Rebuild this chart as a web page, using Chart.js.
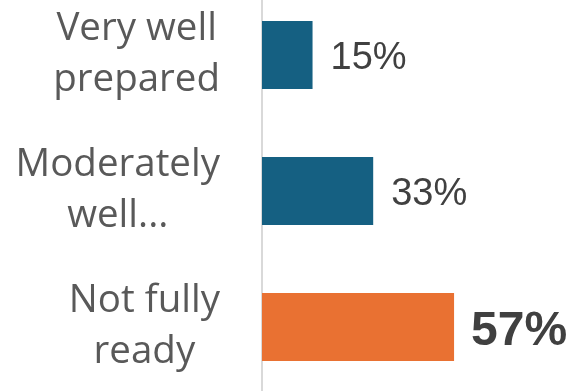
<!DOCTYPE html>
<html>
<head>
<meta charset="utf-8">
<script src="https://cdn.jsdelivr.net/npm/chart.js@4"></script>
<style>
  html, body { margin: 0; padding: 0; background: #fff; overflow: hidden; }
  #wrap { width: 572px; height: 408px; margin-top: -13px; }
</style>
</head>
<body>
<div id="wrap"><canvas id="readinessChart" width="572" height="408"></canvas></div>
<script>
// Survey answers, top to bottom
const categories = [['Very well', 'prepared'], ['Moderately', 'well...'], ['Not fully', 'ready']];
const shares = [15, 33, 57];
const valueLabels = ['15%', '33%', '57%'];
const highlighted = [false, false, true];

const BLUE = '#156082';
const ORANGE = '#E97132';

// Category labels: each block right-aligned to the axis gutter, lines centered inside it
const categoryLabels = {
  id: 'categoryLabels',
  afterDraw(chart) {
    const ctx = chart.ctx;
    const yScale = chart.scales.y;
    ctx.save();
    ctx.font = '38.5px "Open Sans"';
    ctx.fillStyle = '#595959';
    ctx.textAlign = 'center';
    ctx.textBaseline = 'alphabetic';
    categories.forEach((lines, i) => {
      const y = yScale.getPixelForTick(i);
      const widest = Math.max(...lines.map(l => ctx.measureText(l).width));
      const cx = 220 - widest / 2;
      lines.forEach((line, k) => {
        ctx.fillText(line, cx, y - 15 + k * 51);
      });
    });
    ctx.restore();
  }
};

// Percentages just past the end of each bar
const valueTags = {
  id: 'valueTags',
  afterDatasetsDraw(chart) {
    const ctx = chart.ctx;
    const meta = chart.getDatasetMeta(0);
    ctx.save();
    ctx.textAlign = 'left';
    ctx.textBaseline = 'alphabetic';
    ctx.fillStyle = '#404040';
    meta.data.forEach((bar, i) => {
      if (highlighted[i]) {
        ctx.font = 'bold 48px "Liberation Sans"';
        ctx.fillText(valueLabels[i], bar.x + 17, bar.y + 18);
      } else {
        ctx.font = '38px "Liberation Sans"';
        ctx.fillText(valueLabels[i], bar.x + 18, bar.y + 14);
      }
    });
    ctx.restore();
  }
};

const ctx = document.getElementById('readinessChart').getContext('2d');
new Chart(ctx, {
  type: 'bar',
  data: {
    labels: categories,
    datasets: [{
      data: shares,
      backgroundColor: highlighted.map(h => h ? ORANGE : BLUE),
      borderWidth: 0,
      barPercentage: 0.5,
      categoryPercentage: 1.0
    }]
  },
  options: {
    indexAxis: 'y',
    responsive: false,
    animation: false,
    layout: { padding: 0 },
    scales: {
      x: {
        display: false,
        min: 0,
        max: 92
      },
      y: {
        grid: { display: false, drawTicks: false },
        border: { display: true, color: '#d9d9d9', width: 2 },
        ticks: { display: false },
        afterFit(scale) { scale.width = 262; }
      }
    },
    plugins: {
      legend: { display: false },
      tooltip: { enabled: false }
    }
  },
  plugins: [categoryLabels, valueTags]
});
</script>
</body>
</html>
